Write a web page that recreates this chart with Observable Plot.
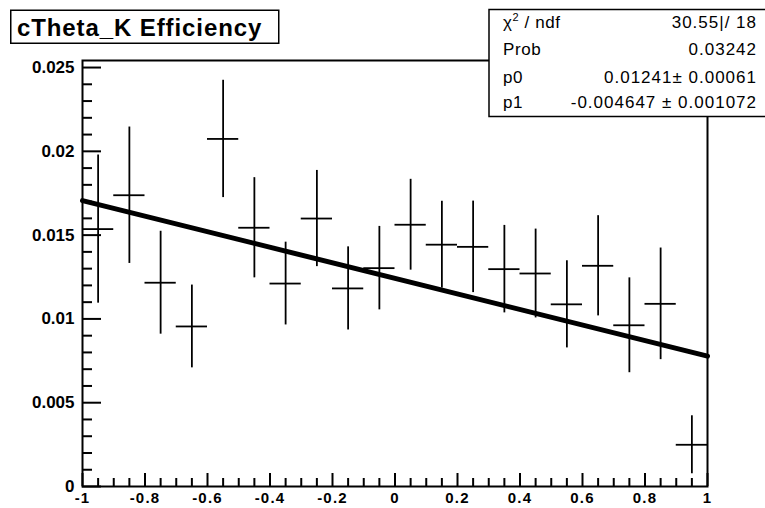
<!DOCTYPE html>
<html><head><meta charset="utf-8">
<script src="https://cdn.jsdelivr.net/npm/d3@7"></script>
<script src="https://cdn.jsdelivr.net/npm/@observablehq/plot@0.6"></script>
<style>
body{margin:0;background:#fff;}
#chart{width:765px;height:508px;overflow:hidden;}
g[aria-label="x-axis tick label"] text{letter-spacing:1.2px;}
</style>
</head><body><div id="chart"></div>
<script>
// ---- data ----
const binCenters = [-0.95,-0.85,-0.75,-0.65,-0.55,-0.45,-0.35,-0.25,-0.15,-0.05,0.05,0.15,0.25,0.35,0.45,0.55,0.65,0.75,0.85,0.95];
const efficiency = [0.01536,0.01738,0.01216,0.00955,0.02074,0.01544,0.01211,0.01599,0.01182,0.01303,0.01562,0.01443,0.01430,0.01297,0.01271,0.01087,0.01317,0.00962,0.01090,0.00249];
const effError   = [0.00442,0.00407,0.00307,0.00247,0.00350,0.00299,0.00247,0.00287,0.00248,0.00249,0.00271,0.00259,0.00273,0.00261,0.00265,0.00260,0.00299,0.00283,0.00333,0.00173];
const binHalfWidth = 0.05;
const fitX = [-1, 1];
const fitY = [0.01706, 0.00778];
const xMajorTicks = [-1,-0.8,-0.6,-0.4,-0.2,0,0.2,0.4,0.6,0.8,1];
const xMinorTicks = [-0.95,-0.9,-0.85,-0.75,-0.7,-0.65,-0.55,-0.5,-0.45,-0.35,-0.3,-0.25,-0.15,-0.1,-0.05,0.05,0.1,0.15,0.25,0.3,0.35,0.45,0.5,0.55,0.65,0.7,0.75,0.85,0.9,0.95];
const yMajorTicks = [0,0.005,0.01,0.015,0.02,0.025];
const yMinorTicks = [0.001,0.002,0.003,0.004,0.006,0.007,0.008,0.009,0.011,0.012,0.013,0.014,0.016,0.017,0.018,0.019,0.021,0.022,0.023,0.024];
const yMax = 0.02542;
const titleText = "cTheta_K Efficiency";
const statLabels = ["χ2 / ndf","Prob","p0","p1"];
const statValues = ["30.55|/ 18","0.03242","0.01241± 0.00061","-0.004647 ± 0.001072"];

const bins = binCenters.map((x,i)=>({x, lo:x-binHalfWidth, hi:x+binHalfWidth, y:efficiency[i], e:effError[i]}));
const fit = fitX.map((x,i)=>({x, y:fitY[i]}));

const W = 765, H = 508, mL = 82, mT = 60, mR = 58, mB = 22;
const innerW = W - mL - mR, innerH = H - mT - mB;

const chart = Plot.plot({
  width: W, height: H,
  marginLeft: mL, marginTop: mT, marginRight: mR, marginBottom: mB,
  style: {fontFamily: '"Liberation Sans", Arial, sans-serif', background: "#fff", color: "#000", overflow: "visible"},
  x: {domain: [-1, 1]},
  y: {domain: [0, yMax]},
  marks: [
    // inward ROOT-style ticks
    Plot.ruleY(yMajorTicks, {y: d=>d, insetRight: innerW - 19, stroke: "#000", strokeWidth: 2}),
    Plot.ruleY(yMinorTicks, {y: d=>d, insetRight: innerW - 10, stroke: "#000", strokeWidth: 2}),
    Plot.ruleX(xMajorTicks, {x: d=>d, insetTop: innerH - 13, stroke: "#000", strokeWidth: 2}),
    Plot.ruleX(xMinorTicks, {x: d=>d, insetTop: innerH - 8, stroke: "#000", strokeWidth: 2}),
    Plot.axisY(yMajorTicks, {tickSize: 0, tickPadding: 8, tickFormat: d=>String(d), fontSize: 17, fontWeight: "bold", label: null}),
    Plot.axisX(xMajorTicks, {tickSize: 0, tickPadding: 6, tickFormat: d=>String(d), fontSize: 15, fontWeight: "bold", label: null}),
    // error bars
    Plot.ruleX(bins, {x: "x", y1: d=>d.y - d.e, y2: d=>d.y + d.e, stroke: "#000", strokeWidth: 1.8}),
    Plot.ruleY(bins, {y: "y", x1: "lo", x2: "hi", stroke: "#000", strokeWidth: 1.8}),
    // fit line
    Plot.line(fit, {x: "x", y: "y", stroke: "#000", strokeWidth: 5}),
    Plot.frame({stroke: "#000", strokeWidth: 2})
  ]
});
document.getElementById("chart").appendChild(chart);

// title box and stats box drawn inside the same svg
const svg = d3.select(chart);
const font = '"Liberation Sans", Arial, sans-serif';
const tg = svg.append("g").attr("text-anchor","start");
tg.append("rect").attr("x",10.75).attr("y",10.25).attr("width",268).attr("height",33)
  .attr("fill","#fff").attr("stroke","#000").attr("stroke-width",1.5);
tg.append("text").attr("x",17).attr("y",35.7).attr("text-anchor","start").attr("font-family",font).attr("font-weight","bold")
  .attr("font-size",24).attr("letter-spacing","0.9px").attr("fill","#000").text(titleText);

const sg = svg.append("g").attr("text-anchor","start");
sg.append("rect").attr("x",489).attr("y",9.5).attr("width",290).attr("height",107)
  .attr("fill","#fff").attr("stroke","#000").attr("stroke-width",1.5);
const rowBase = [27.5, 55, 83, 108];
statLabels.forEach((lab,i)=>{
  const t = sg.append("text").attr("x",503).attr("y",rowBase[i]).attr("text-anchor","start").attr("font-family",font)
    .attr("font-size",17).attr("letter-spacing","0.6px").attr("fill","#000");
  if (lab.startsWith("χ2")) {
    t.append("tspan").text("χ");
    t.append("tspan").attr("font-size",11).attr("dy",-7).text("2");
    t.append("tspan").attr("dy",7).text(" / ndf");
  } else t.text(lab);
  sg.append("text").attr("x",757).attr("y",rowBase[i]).attr("text-anchor","end").attr("font-family",font)
    .attr("font-size",17).attr("letter-spacing","1px").attr("fill","#000").text(statValues[i]);
});
</script></body></html>
